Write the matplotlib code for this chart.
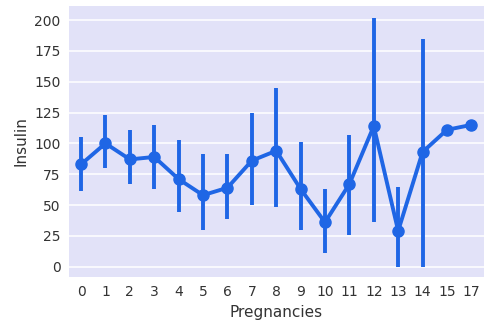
import matplotlib
matplotlib.use("Agg")
import matplotlib.pyplot as plt
import numpy as np

# Insulin mean by number of pregnancies, with CI bars
pregnancies = ["0", "1", "2", "3", "4", "5", "6", "7", "8", "9", "10",
               "11", "12", "13", "14", "15", "17"]
insulin_mean = [83, 100, 87, 89, 71, 58, 64, 86, 94, 63, 36, 67, 114, 29, 93, 111, 115]
ci_low = [61, 80, 67, 63, 44, 30, 39, 50, 48, 30, 11, 26, 36, 0, 0, 111, 115]
ci_high = [105, 123, 111, 115, 103, 91, 91, 125, 145, 101, 63, 107, 202, 65, 185, 111, 115]

color = "#1f66e5"

fig = plt.figure(figsize=(4.85, 3.28), dpi=100)
ax = fig.add_axes([0.142, 0.155, 0.855, 0.827])
ax.set_facecolor("#e2e2f8")
for s in ax.spines.values():
    s.set_visible(False)
ax.grid(True, axis="y", color="white", linewidth=1.1)
ax.set_axisbelow(True)

x = np.arange(len(pregnancies))
ax.vlines(x, ci_low, ci_high, color=color, linewidth=2.8, zorder=2)
ax.plot(x, insulin_mean, color=color, linewidth=2.8, marker="o", markersize=8, zorder=3)

ax.set_xticks(x)
ax.set_xticklabels(pregnancies)
ax.set_yticks(np.arange(0, 201, 25))
ax.set_xlim(-0.5, len(pregnancies) - 0.5)
ax.set_ylim(-8.5, 211.5)
ax.tick_params(length=0, labelsize=10, colors="#333333", pad=6)
ax.set_xlabel("Pregnancies", fontsize=11, color="#333333")
ax.set_ylabel("Insulin", fontsize=11, color="#333333")

fig.savefig("out.png", dpi=100)
